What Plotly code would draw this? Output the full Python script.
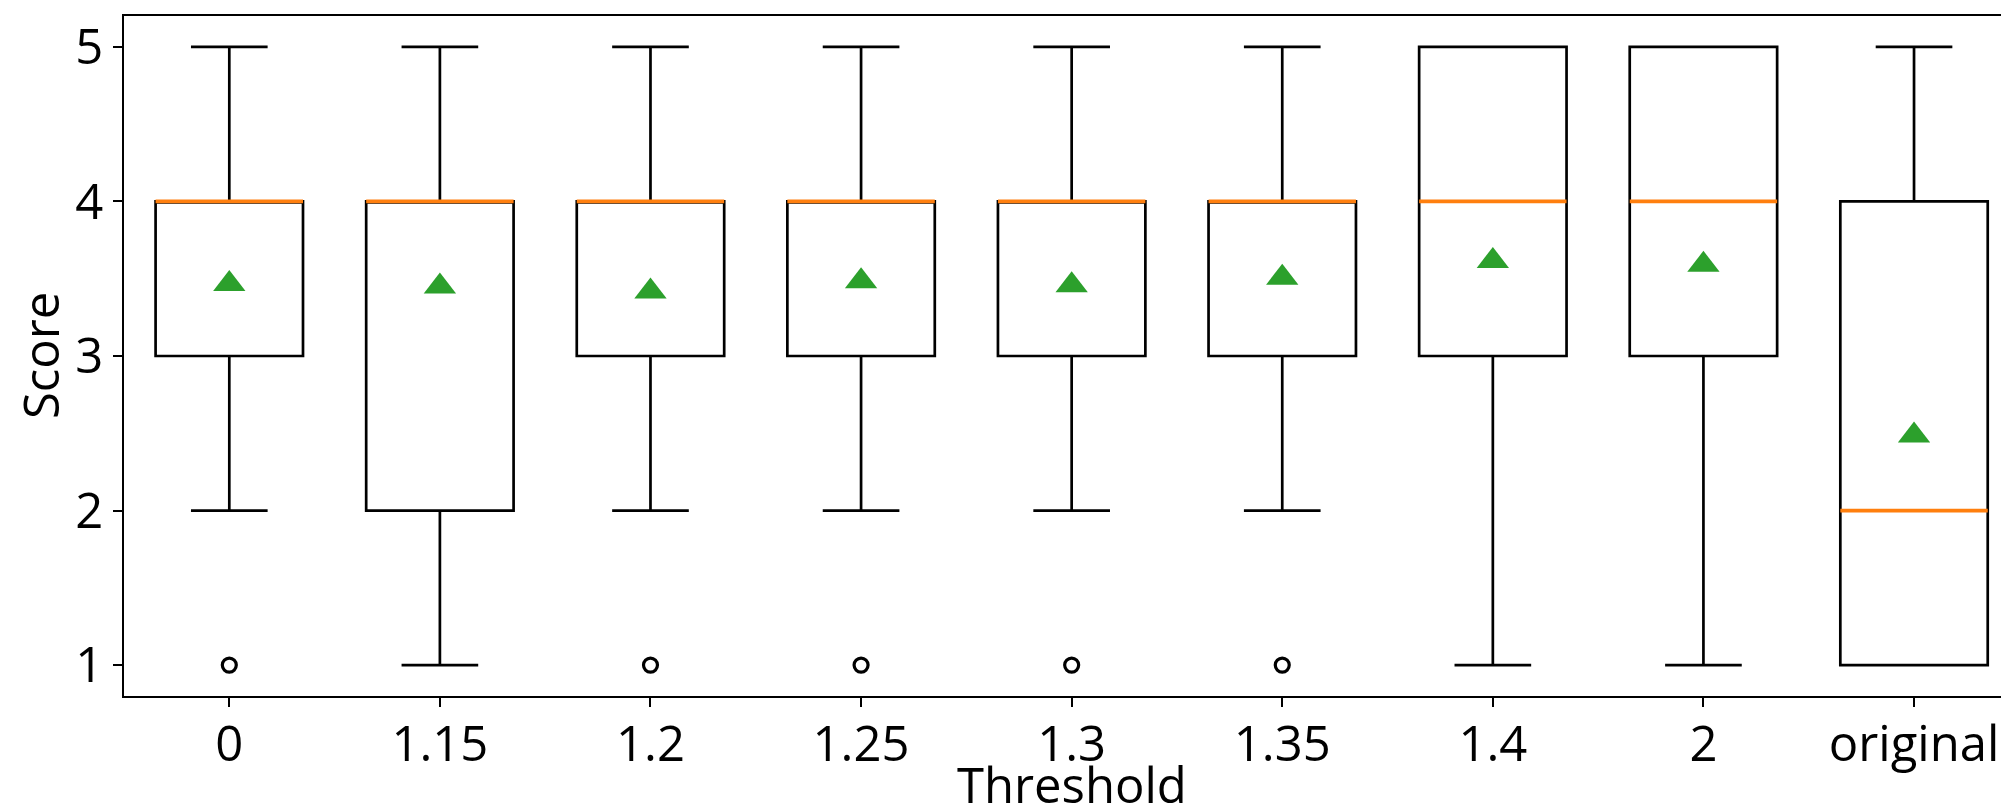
import plotly.graph_objects as go

categories = ["0", "1.15", "1.2", "1.25", "1.3", "1.35", "1.4", "2", "original"]
q1 = [3, 2, 3, 3, 3, 3, 3, 3, 1]
median = [4, 4, 4, 4, 4, 4, 4, 4, 2]
q3 = [4, 4, 4, 4, 4, 4, 5, 5, 4]
lower_whisker = [2, 1, 2, 2, 2, 2, 1, 1, 1]
upper_whisker = [5, 5, 5, 5, 5, 5, 5, 5, 5]
means = [3.466, 3.45, 3.417, 3.483, 3.458, 3.507, 3.615, 3.59, 2.485]
outlier_cats = ["0", "1.2", "1.25", "1.3", "1.35"]
outlier_vals = [1, 1, 1, 1, 1]
x_title = "Threshold"
y_title = "Score"

FONT = "Open Sans"
FS = 49

fig = go.Figure()

# Black boxes with whiskers and caps
fig.add_trace(go.Box(
    x=categories, q1=q1, median=median, q3=q3,
    lowerfence=lower_whisker, upperfence=upper_whisker,
    width=0.7, whiskerwidth=0.52,
    line=dict(color="black", width=2.7),
    fillcolor="rgba(0,0,0,0)",
    boxpoints=False, showlegend=False, hoverinfo="skip",
))

# Orange median lines (degenerate boxes at the median)
fig.add_trace(go.Box(
    x=categories, q1=median, median=median, q3=median,
    lowerfence=median, upperfence=median,
    width=0.7, whiskerwidth=0,
    line=dict(color="#ff7f0e", width=3.8),
    fillcolor="rgba(0,0,0,0)",
    boxpoints=False, showlegend=False, hoverinfo="skip",
))

# Outliers
fig.add_trace(go.Scatter(
    x=outlier_cats, y=outlier_vals, mode="markers",
    marker=dict(symbol="circle-open", size=14, color="black", line=dict(width=3.2)),
    showlegend=False, hoverinfo="skip",
))

# Means
fig.add_trace(go.Scatter(
    x=categories, y=means, mode="markers",
    marker=dict(symbol="triangle-up", size=28, color="#2ca02c", line=dict(width=0)),
    showlegend=False, hoverinfo="skip",
))

fig.update_layout(
    width=2001, height=811,
    margin=dict(l=124, r=0, t=16, b=115, pad=0),
    paper_bgcolor="white", plot_bgcolor="white",
    font=dict(family=FONT, size=FS, color="black"),
    boxmode="overlay",
    annotations=[
        dict(text=x_title, xref="paper", yref="paper",
             x=(1072 - 124) / 1877, y=(696 - 784) / 680,
             xanchor="center", yanchor="middle", showarrow=False,
             font=dict(family=FONT, size=FS, color="black")),
        dict(text=y_title, xref="paper", yref="paper",
             x=(40 - 124) / 1877, y=0.5, textangle=-90,
             xanchor="center", yanchor="middle", showarrow=False,
             font=dict(family=FONT, size=FS, color="black")),
    ],
)

fig.update_xaxes(
    type="category", categoryorder="array", categoryarray=categories,
    range=[-0.5, 8.413], automargin=False,
    showline=True, linecolor="black", linewidth=2, mirror=True,
    ticks="outside", ticklen=9, tickwidth=2, tickcolor="black",
    ticklabelstandoff=-5,
    showgrid=False, zeroline=False,
    tickfont=dict(family=FONT, size=FS, color="black"),
)

fig.update_yaxes(
    range=[0.8, 5.2], tickvals=[1, 2, 3, 4, 5], automargin=False,
    showline=True, linecolor="black", linewidth=2, mirror=False,
    ticks="outside", ticklen=9, tickwidth=2, tickcolor="black",
    showgrid=False, zeroline=False,
    tickfont=dict(family=FONT, size=FS, color="black"),
)

fig.write_html("out.html")
